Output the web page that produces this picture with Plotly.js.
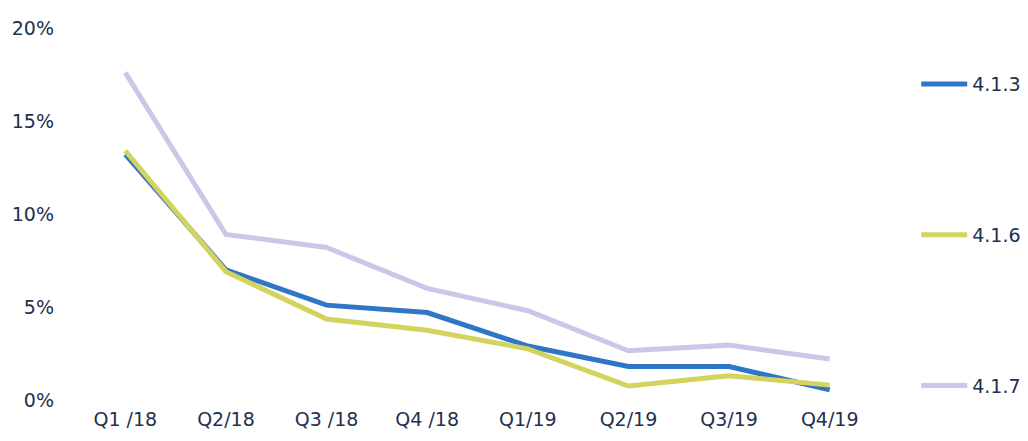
<!DOCTYPE html>
<html>
<head>
<meta charset="utf-8">
<script src="https://cdn.plot.ly/plotly-3.0.1.min.js"></script>
<style>html,body{margin:0;padding:0;background:#fff;}#chart{width:1028px;height:441px;}</style>
</head>
<body>
<div id="chart"></div>
<script>
const categories = ["Q1 /18", "Q2/18", "Q3 /18", "Q4 /18", "Q1/19", "Q2/19", "Q3/19", "Q4/19"];
const seriesNames = ["4.1.3", "4.1.6", "4.1.7"];
const values_413 = [13.2, 7.0, 5.1, 4.7, 2.9, 1.8, 1.8, 0.55];
const values_416 = [13.4, 6.9, 4.35, 3.75, 2.75, 0.75, 1.3, 0.8];
const values_417 = [17.6, 8.9, 8.2, 6.0, 4.8, 2.65, 2.95, 2.2];
const yTicks = [0, 5, 10, 15, 20];
const yTickLabels = ["0%", "5%", "10%", "15%", "20%"];

const colors = ["#2F77C6", "#D3D35E", "#CBC7E8"];
const allValues = [values_413, values_416, values_417];
const textColor = "#22304F";
const font = "DejaVu Sans, sans-serif";

const traces = allValues.map((v, i) => ({
  type: "scatter",
  mode: "lines",
  x: categories,
  y: v,
  name: seriesNames[i],
  legendgroup: "g" + i,
  line: {color: colors[i], width: 5}
}));

const layout = {
  width: 1028, height: 441,
  margin: {l: 75, r: 148, t: 28, b: 41, autoexpand: false},
  paper_bgcolor: "#fff", plot_bgcolor: "#fff",
  showlegend: true,
  legend: {
    x: 1.045, xanchor: "left", y: 0.9, yanchor: "top",
    font: {family: font, size: 19, color: textColor},
    tracegroupgap: 123, itemwidth: 46,
    bgcolor: "rgba(0,0,0,0)"
  },
  xaxis: {
    type: "category", range: [-0.5, 7.5],
    showgrid: false, zeroline: false, showline: false, ticks: "",
    ticklabelstandoff: 6,
    tickfont: {family: font, size: 19, color: textColor},
    fixedrange: true
  },
  yaxis: {
    range: [0, 20], tickvals: yTicks, ticktext: yTickLabels,
    showgrid: false, zeroline: false, showline: false, ticks: "",
    ticklabelstandoff: 20,
    tickfont: {family: font, size: 19, color: textColor},
    fixedrange: true
  }
};

Plotly.newPlot("chart", traces, layout, {displayModeBar: false, staticPlot: true});
</script>
</body>
</html>
